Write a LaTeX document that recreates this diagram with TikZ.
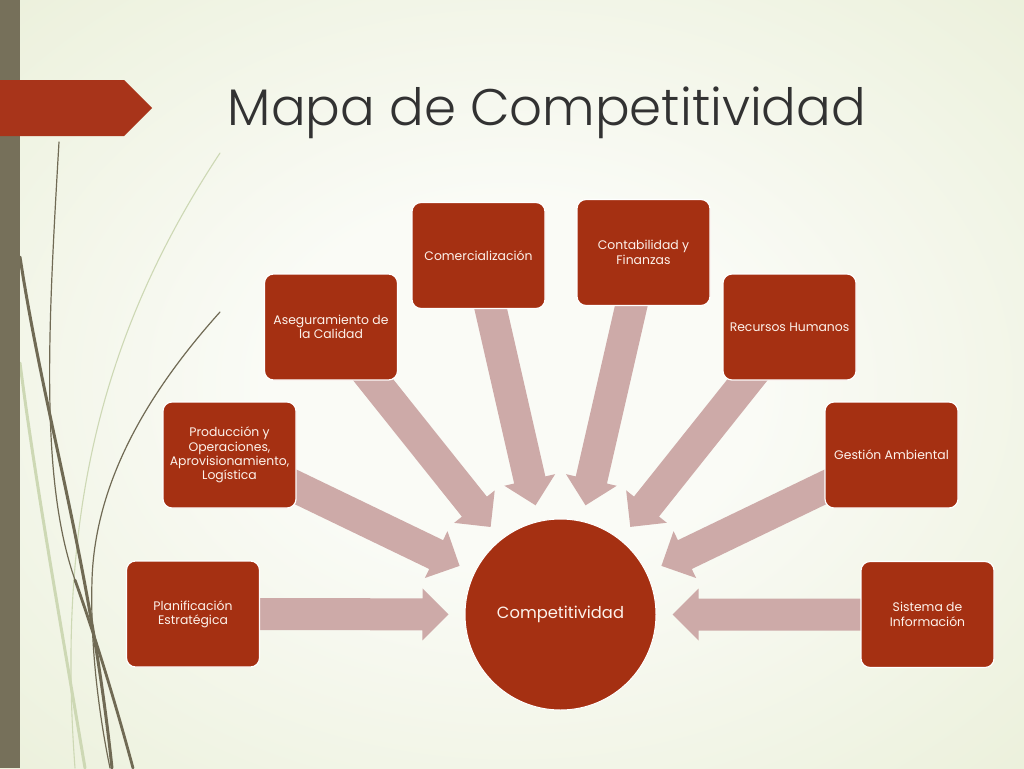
\documentclass[tikz,border=0pt]{standalone}
\usepackage{fontspec}
\setmainfont{Poppins}
\IfFontExistsTF{Poppins Light}{\newfontfamily\titlefont{Poppins Light}}{\newfontfamily\titlefont{Poppins}}
\usetikzlibrary{calc}
\definecolor{boxred}{RGB}{165,48,18}
\definecolor{bannerred}{RGB}{168,52,26}
\definecolor{arrowpink}{RGB}{205,170,168}
\definecolor{barcol}{RGB}{118,112,90}
\definecolor{bgin}{RGB}{250,251,246}
\definecolor{bgout}{RGB}{224,232,198}
\definecolor{lightwisp}{RGB}{205,216,180}
\definecolor{darkwisp}{RGB}{112,106,84}
\definecolor{titlecol}{RGB}{50,50,50}
\definecolor{txtcol}{RGB}{253,242,235}
\pgfdeclareradialshading{bgshade}{\pgfpoint{0bp}{0bp}}{color(0bp)=(bgin); color(12bp)=(bgin); color(55bp)=(bgout); color(75bp)=(bgout)}
\pgfdeclarelayer{bg}
\pgfdeclarelayer{arr}
\pgfsetlayers{bg,arr,main}
\tikzset{
  box/.style={rectangle, rounded corners=9pt, fill=boxred, draw=white, line width=1.2pt,
    minimum width=133pt, minimum height=106pt, inner sep=0pt, text=txtcol,
    font=\fontsize{12.4}{14.4}\selectfont, align=center},
  hub/.style={circle, fill=boxred, draw=white, line width=1pt, minimum size=191pt, inner sep=0pt,
    text=txtcol, font=\fontsize{16.3}{19}\selectfont},
  wispdark/.style={draw=darkwisp, line cap=round},
  wisplight/.style={draw=lightwisp, line cap=round}
}
\newcommand{\blockarr}[1]{%
  \fill[arrowpink] let \p1=(#1.center), \p2=($(comp.center)!112pt!(#1.center)$),
    \n1={atan2(\y2-\y1,\x2-\x1)}, \n2={veclen(\x2-\x1,\y2-\y1)-26pt}, \n3={veclen(\x2-\x1,\y2-\y1)} in
    [shift={(\p1)}, rotate=\n1]
    (0pt,-16pt) -- (\n2,-16pt) -- (\n2,-26pt) -- (\n3,0pt) -- (\n2,26pt) -- (\n2,16pt) -- (0pt,16pt) -- cycle;}
\begin{document}
\begin{tikzpicture}[x=1pt,y=-1pt]
\useasboundingbox (0,0) rectangle (1024,768);
% nodes
\node[hub] (comp) at (560.5,614.5) {Competitividad};
\node[box] (plan) at (193,614) {Planificación\\Estratégica};
\node[box] (prod) at (229.5,455) {Producción y\\Operaciones,\\Aprovisionamiento,\\Logística};
\node[box] (aseg) at (331,327) {Aseguramiento de\\la Calidad};
\node[box] (comer) at (478.5,255.5) {Comercialización};
\node[box] (conta) at (643.5,252.5) {Contabilidad y\\Finanzas};
\node[box] (rrhh) at (789.5,327) {Recursos Humanos};
\node[box] (gest) at (891.5,455) {Gestión Ambiental};
\node[box] (sist) at (927.5,614.5) {Sistema de\\Información};
\node[anchor=base, text=titlecol, font=\titlefont\fontsize{51.4}{60}\selectfont] (title) at (547,125) {Mapa de Competitividad};
% arrows
\begin{pgfonlayer}{arr}
\blockarr{plan}
\blockarr{prod}
\blockarr{aseg}
\blockarr{comer}
\blockarr{conta}
\blockarr{rrhh}
\blockarr{gest}
\blockarr{sist}
\end{pgfonlayer}
% background
\begin{pgfonlayer}{bg}
\shade[shading=bgshade] (0,0) rectangle (1024,768);
\draw[wisplight, line width=1.1pt] (220,153) .. controls (110,320) and (55,500) .. (75,768);
\draw[wisplight, line width=3pt] (20,363) .. controls (35,480) and (60,620) .. (85,768);
\draw[wispdark, line width=3pt] (20,257) .. controls (45,420) and (90,560) .. (112,768);
\draw[wispdark, line width=1.2pt] (59,142) .. controls (48,330) and (40,480) .. (75,580);
\draw[wispdark, line width=2.8pt] (75,580) .. controls (100,650) and (120,720) .. (133,768);
\draw[wispdark, line width=1.2pt] (220,312) .. controls (150,390) and (95,480) .. (92,580) .. controls (90,650) and (100,720) .. (110,768);
\fill[barcol] (0,0) rectangle (20,768);
\fill[bannerred] (0,80) -- (124,80) -- (152,108) -- (124,136) -- (0,136) -- cycle;
\end{pgfonlayer}
\end{tikzpicture}
\end{document}
